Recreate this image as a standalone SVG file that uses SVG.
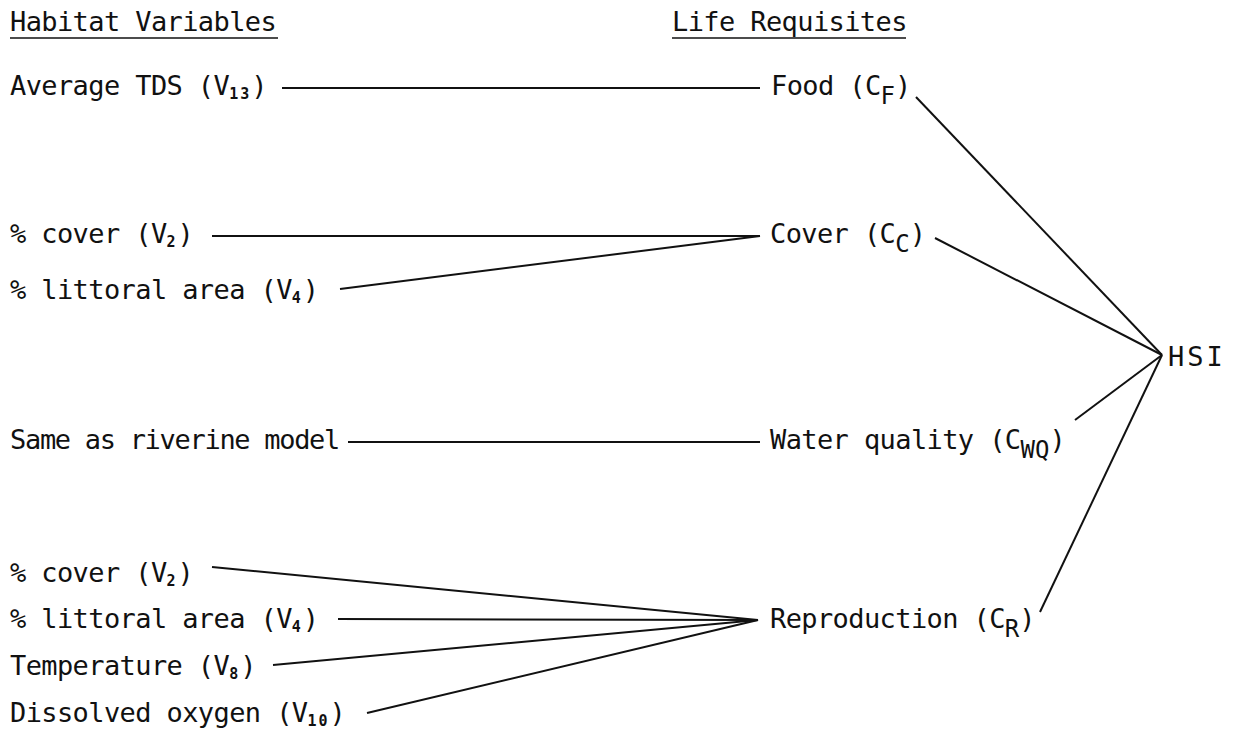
<svg xmlns="http://www.w3.org/2000/svg" width="1234" height="729" viewBox="0 0 1234 729">
<style>
text{font-family:"DejaVu Sans Mono","Liberation Mono",monospace;font-size:27px;letter-spacing:-0.6px;fill:#111}
.sv{font-size:15px;font-weight:bold;letter-spacing:2px}
.sc{font-size:24px;letter-spacing:0}
.c line{stroke:#111;stroke-width:2}
</style>
<rect width="1234" height="729" fill="#fff"/>
<g id="headers">
<text x="10" y="31">Habitat Variables</text>
<line x1="10" y1="38" x2="278" y2="38" stroke="#111" stroke-width="1.6"/>
<text x="672" y="31">Life Requisites</text>
<line x1="672" y1="38" x2="906" y2="38" stroke="#111" stroke-width="1.6"/>
</g>
<g id="v13"><text x="10" y="95">Average TDS (V<tspan class="sv" dy="4">13</tspan><tspan dy="-4">)</tspan></text></g>
<g id="cf"><text x="771" y="95">Food (C<tspan class="sc" dy="9">F</tspan><tspan dy="-9">)</tspan></text></g>
<g id="v2a"><text x="10" y="243">% cover (V<tspan class="sv" dy="4">2</tspan><tspan dy="-4">)</tspan></text></g>
<g id="v4a"><text x="10" y="299">% littoral area (V<tspan class="sv" dy="4">4</tspan><tspan dy="-4">)</tspan></text></g>
<g id="cc"><text x="770" y="243">Cover (C<tspan class="sc" dy="9">C</tspan><tspan dy="-9">)</tspan></text></g>
<g id="same"><text x="10" y="449" style="letter-spacing:-1.3px">Same as riverine model</text></g>
<g id="cwq"><text x="770" y="449">Water quality (C<tspan class="sc" dy="9">WQ</tspan><tspan dy="-9">)</tspan></text></g>
<g id="v2b"><text x="10" y="582">% cover (V<tspan class="sv" dy="4">2</tspan><tspan dy="-4">)</tspan></text></g>
<g id="v4b"><text x="10" y="628">% littoral area (V<tspan class="sv" dy="4">4</tspan><tspan dy="-4">)</tspan></text></g>
<g id="v8"><text x="10" y="675">Temperature (V<tspan class="sv" dy="4">8</tspan><tspan dy="-4">)</tspan></text></g>
<g id="v10"><text x="10" y="722">Dissolved oxygen (V<tspan class="sv" dy="4">10</tspan><tspan dy="-4">)</tspan></text></g>
<g id="cr"><text x="770" y="628">Reproduction (C<tspan class="sc" dy="9">R</tspan><tspan dy="-9">)</tspan></text></g>
<g id="hsi"><text x="1168" y="366" style="letter-spacing:3px">HSI</text></g>
<g id="connectors" class="c">
<line x1="282" y1="88" x2="760" y2="88"/>
<line x1="212" y1="236" x2="760" y2="236"/>
<line x1="340" y1="289" x2="760" y2="236"/>
<line x1="348" y1="442" x2="760" y2="442"/>
<line x1="212" y1="567" x2="758" y2="620"/>
<line x1="338" y1="619" x2="758" y2="620"/>
<line x1="273" y1="665" x2="758" y2="620"/>
<line x1="367" y1="713" x2="758" y2="620"/>
<line x1="916" y1="97" x2="1162" y2="355"/>
<line x1="935" y1="238" x2="1162" y2="355"/>
<line x1="1075" y1="420" x2="1162" y2="355"/>
<line x1="1040" y1="612" x2="1162" y2="355"/>
</g>
</svg>
